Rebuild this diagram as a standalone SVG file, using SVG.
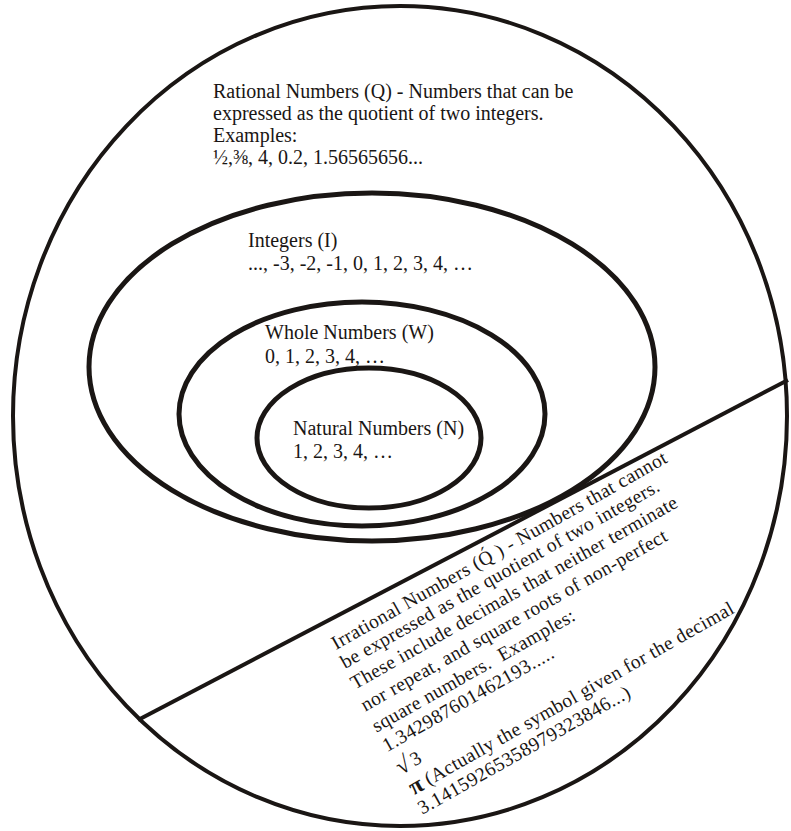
<svg xmlns="http://www.w3.org/2000/svg" width="791" height="831" viewBox="0 0 791 831">
<style>
.set{fill:none;stroke:#1a1614;stroke-width:5}
.outer{fill:none;stroke:#1a1614;stroke-width:4}
.conn{stroke:#1a1614;stroke-width:4;fill:none}
text{font-family:"Liberation Serif","Times New Roman",serif;font-size:20px;fill:#1a1614}
.irr{font-size:19.5px;letter-spacing:0.4px}
.sym{font-weight:bold;font-size:24px}
</style>
<rect width="791" height="831" fill="#ffffff"/>
<g id="rational">
<ellipse class="outer" cx="400" cy="416" rx="387" ry="410"/>
<text x="213" y="98">Rational Numbers (Q) - Numbers that can be</text>
<text x="213" y="120">expressed as the quotient of two integers.</text>
<text x="213" y="142">Examples:</text>
<text x="213" y="164">½,⅜, 4, 0.2, 1.56565656...</text>
</g>
<g id="integers">
<ellipse class="set" cx="372" cy="367" rx="283" ry="174"/>
<text x="248" y="247">Integers (I)</text>
<text x="248" y="270">..., -3, -2, -1, 0, 1, 2, 3, 4, …</text>
</g>
<g id="whole">
<ellipse class="set" cx="362" cy="414" rx="183" ry="112"/>
<text x="265" y="339">Whole Numbers (W)</text>
<text x="265" y="363">0, 1, 2, 3, 4, …</text>
</g>
<g id="natural">
<ellipse class="set" cx="369" cy="438" rx="112" ry="70"/>
<text x="293" y="435">Natural Numbers (N)</text>
<text x="293" y="458">1, 2, 3, 4, …</text>
</g>
<g id="connectors">
<line class="conn" x1="788" y1="380" x2="138" y2="720"/>
</g>
<g id="irrational">
<text class="irr" transform="translate(336 650) rotate(-29.5)" xml:space="preserve"><tspan x="0" y="0">Irrational Numbers (Q&#x0301; ) - Numbers that cannot</tspan><tspan x="-1.5" y="21">be expressed as the quotient of two integers.</tspan><tspan x="-3" y="44">These include decimals that neither terminate</tspan><tspan x="-5" y="68">nor repeat, and square roots of non-perfect</tspan><tspan x="-5.5" y="92">square numbers.  Examples:</tspan><tspan x="-6" y="114">1.342987601462193.....</tspan><tspan class="sym" x="-5" y="141">√</tspan><tspan x="11" y="140">3</tspan><tspan class="sym" x="-4" y="165">π</tspan><tspan x="14" y="164">(Actually the symbol given for the decimal</tspan><tspan x="-6" y="186">3.14159265358979323846...)</tspan></text>
</g>
</svg>
